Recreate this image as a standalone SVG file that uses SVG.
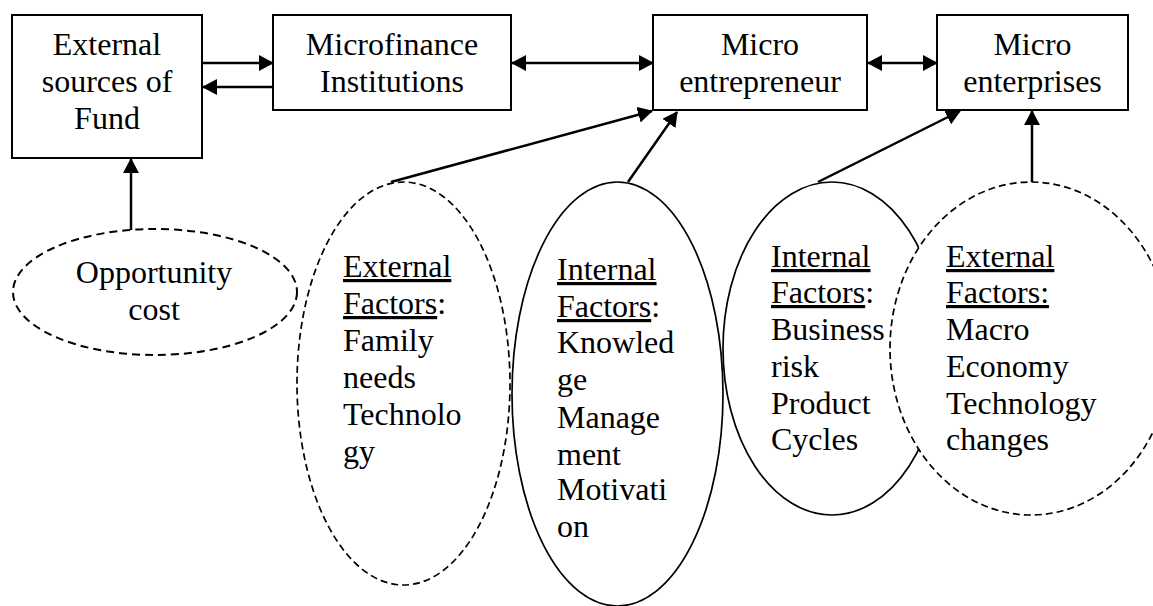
<svg xmlns="http://www.w3.org/2000/svg" width="1153" height="606" viewBox="0 0 1153 606">
  <defs>
    <marker id="head" viewBox="0 0 15 16" markerWidth="15" markerHeight="16" refX="14" refY="8" orient="auto-start-reverse" markerUnits="userSpaceOnUse">
      <path d="M0,0 L15,8 L0,16 z" fill="#000"/>
    </marker>
    <style>
      .box { fill: #fff; stroke: #000; stroke-width: 2; }
      .solid { fill: #fff; stroke: #000; stroke-width: 1.7; }
      .dash { fill: #fff; stroke: #000; stroke-width: 1.7; stroke-dasharray: 7 4; }
      .lbl { font-family: "Liberation Serif", "Times New Roman", serif; font-size: 32px; fill: #000; }
      .mid { text-anchor: middle; }
      .u { text-decoration: underline; }
      .conn line { stroke: #000; stroke-width: 2.5; }
      .one { marker-end: url(#head); }
      .two { marker-start: url(#head); marker-end: url(#head); }
    </style>
  </defs>
  <rect width="1153" height="606" fill="#fff"/>

  <!-- top row of boxes -->
  <g id="external-sources">
    <rect class="box" x="12" y="15" width="190" height="143"/>
    <text class="lbl mid" x="107" y="55">External</text>
    <text class="lbl mid" x="107" y="92">sources of</text>
    <text class="lbl mid" x="107" y="129">Fund</text>
  </g>
  <g id="mfi">
    <rect class="box" x="273" y="15" width="238" height="95"/>
    <text class="lbl mid" x="392" y="55">Microfinance</text>
    <text class="lbl mid" x="392" y="92">Institutions</text>
  </g>
  <g id="entrepreneur">
    <rect class="box" x="653" y="15" width="214" height="95"/>
    <text class="lbl mid" x="760" y="55">Micro</text>
    <text class="lbl mid" x="760" y="92">entrepreneur</text>
  </g>
  <g id="enterprises">
    <rect class="box" x="937" y="15" width="191" height="95"/>
    <text class="lbl mid" x="1032.5" y="55">Micro</text>
    <text class="lbl mid" x="1032.5" y="92">enterprises</text>
  </g>

  <!-- factor ellipses -->
  <g id="opportunity-cost">
    <ellipse class="dash" cx="155" cy="292" rx="142" ry="63" style="stroke-dasharray: 8 5; stroke-width: 2"/>
    <text class="lbl mid" x="154" y="283">Opportunity</text>
    <text class="lbl mid" x="154" y="320">cost</text>
  </g>
  <g id="mfi-external-factors">
    <ellipse class="dash" cx="403.5" cy="383.5" rx="106.5" ry="201.5"/>
    <text class="lbl" x="343" y="277"><tspan class="u">External</tspan></text>
    <text class="lbl" x="343" y="314"><tspan class="u">Factors</tspan>:</text>
    <text class="lbl" x="343" y="351">Family</text>
    <text class="lbl" x="343" y="388">needs</text>
    <text class="lbl" x="343" y="425">Technolo</text>
    <text class="lbl" x="343" y="462">gy</text>
  </g>
  <g id="entrepreneur-internal-factors">
    <ellipse class="solid" cx="617.5" cy="394" rx="105.5" ry="212"/>
    <text class="lbl" x="557" y="280"><tspan class="u">Internal</tspan></text>
    <text class="lbl" x="557" y="317"><tspan class="u">Factors</tspan>:</text>
    <text class="lbl" x="557" y="353">Knowled</text>
    <text class="lbl" x="557" y="390">ge</text>
    <text class="lbl" x="557" y="428">Manage</text>
    <text class="lbl" x="557" y="465">ment</text>
    <text class="lbl" x="557" y="500">Motivati</text>
    <text class="lbl" x="557" y="537">on</text>
  </g>
  <g id="enterprise-internal-factors">
    <ellipse class="solid" cx="832" cy="348.5" rx="109" ry="166.5"/>
    <text class="lbl" x="771" y="267"><tspan class="u">Internal</tspan></text>
    <text class="lbl" x="771" y="303"><tspan class="u">Factors</tspan>:</text>
    <text class="lbl" x="771" y="340">Business</text>
    <text class="lbl" x="771" y="377">risk</text>
    <text class="lbl" x="771" y="414">Product</text>
    <text class="lbl" x="771" y="450">Cycles</text>
  </g>
  <g id="enterprise-external-factors">
    <ellipse class="dash" cx="1031" cy="348.5" rx="141" ry="166.5"/>
    <text class="lbl" x="946" y="267"><tspan class="u">External</tspan></text>
    <text class="lbl" x="946" y="303"><tspan class="u">Factors:</tspan></text>
    <text class="lbl" x="946" y="340">Macro</text>
    <text class="lbl" x="946" y="377">Economy</text>
    <text class="lbl" x="946" y="414">Technology</text>
    <text class="lbl" x="946" y="450">changes</text>
  </g>

  <!-- connectors -->
  <g id="connectors" class="conn">
    <line class="one" x1="202" y1="63" x2="273" y2="63"/>
    <line class="one" x1="273" y1="87" x2="203" y2="87"/>
    <line class="two" x1="512" y1="63" x2="653" y2="63"/>
    <line class="two" x1="868" y1="63" x2="937" y2="63"/>
    <line class="one" x1="131" y1="230" x2="131" y2="159"/>
    <line class="one" x1="391" y1="182" x2="652" y2="111"/>
    <line class="one" x1="628" y1="182" x2="677" y2="112"/>
    <line class="one" x1="818" y1="182" x2="960" y2="111"/>
    <line class="one" x1="1032" y1="182" x2="1032" y2="111"/>
  </g>
</svg>
